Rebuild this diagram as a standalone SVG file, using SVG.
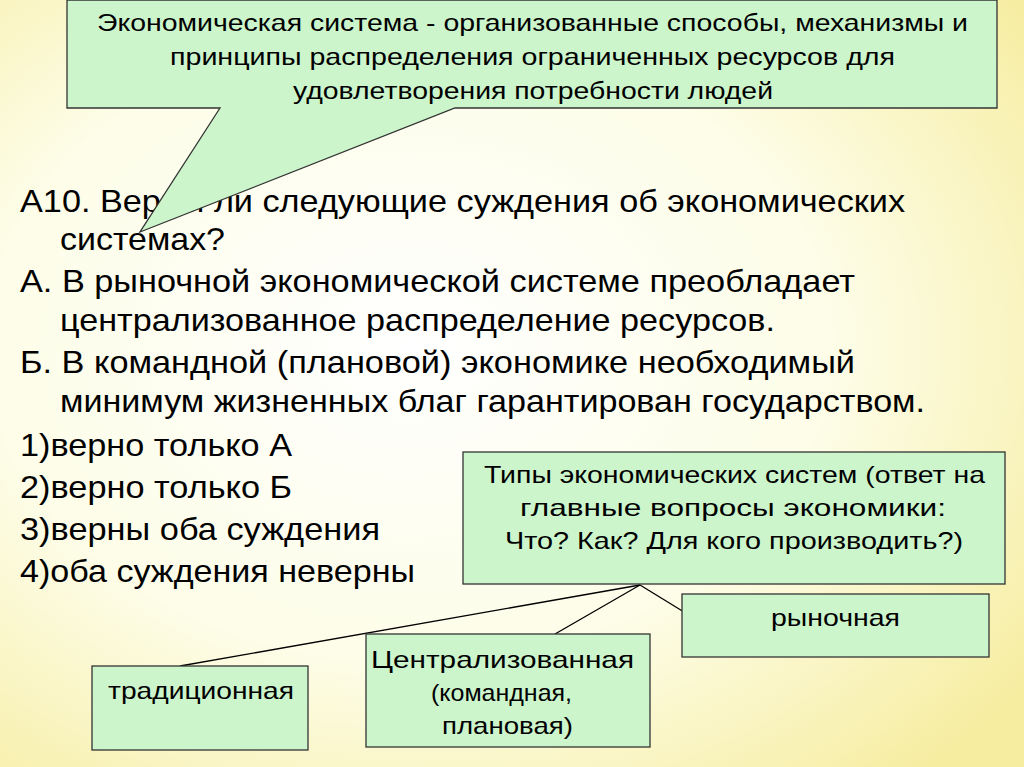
<svg xmlns="http://www.w3.org/2000/svg" width="1024" height="767" viewBox="0 0 1024 767">
<defs>
<radialGradient id="bg" cx="0.4" cy="0.45" r="0.75">
<stop offset="0" stop-color="#ffffff"/>
<stop offset="0.55" stop-color="#fdfde8"/>
<stop offset="1" stop-color="#f6eda0"/>
</radialGradient>
<style>
.box{fill:#ccf5cc;stroke:#333;stroke-width:1.3}
.t{font-family:"Liberation Sans",Arial,sans-serif;fill:#000}
.s{font-size:24px}
.m{font-size:32px}
.c{stroke:#000;stroke-width:1.3;fill:none}
</style>
</defs>
<rect width="1024" height="767" fill="url(#bg)"/>
<g id="question" class="t m" lengthAdjust="spacingAndGlyphs">
<text x="20" y="212" textLength="885" lengthAdjust="spacingAndGlyphs">А10. Верны ли следующие суждения об экономических</text>
<text x="60" y="250" textLength="165" lengthAdjust="spacingAndGlyphs">системах?</text>
<text x="20" y="292" textLength="835" lengthAdjust="spacingAndGlyphs">А. В рыночной экономической системе преобладает</text>
<text x="60" y="331" textLength="715" lengthAdjust="spacingAndGlyphs">централизованное распределение ресурсов.</text>
<text x="20" y="373" textLength="835" lengthAdjust="spacingAndGlyphs">Б. В командной (плановой) экономике необходимый</text>
<text x="60" y="412" textLength="865" lengthAdjust="spacingAndGlyphs">минимум жизненных благ гарантирован государством.</text>
<text x="20" y="456" textLength="272" lengthAdjust="spacingAndGlyphs">1)верно только А</text>
<text x="20" y="498" textLength="272" lengthAdjust="spacingAndGlyphs">2)верно только Б</text>
<text x="20" y="540" textLength="360" lengthAdjust="spacingAndGlyphs">3)верны оба суждения</text>
<text x="20" y="582" textLength="395" lengthAdjust="spacingAndGlyphs">4)оба суждения неверны</text>
</g>
<g id="definition">
<path class="box" d="M67,0 H997 V108 H455 L140,232 L220,108 H67 Z"/>
<text class="t s" x="97" y="31" textLength="871" lengthAdjust="spacingAndGlyphs">Экономическая система - организованные способы, механизмы и</text>
<text class="t s" x="170" y="65" textLength="725" lengthAdjust="spacingAndGlyphs">принципы распределения ограниченных ресурсов для</text>
<text class="t s" x="293" y="99" textLength="480" lengthAdjust="spacingAndGlyphs">удовлетворения потребности людей</text>
</g>
<g id="connectors">
<line class="c" x1="640" y1="585" x2="180" y2="666"/>
<line class="c" x1="640" y1="585" x2="555" y2="634"/>
<line class="c" x1="640" y1="585" x2="684" y2="612"/>
</g>
<g id="types">
<rect class="box" x="463" y="452" width="542" height="132"/>
<text class="t s" x="484" y="483" textLength="501" lengthAdjust="spacingAndGlyphs">Типы экономических систем (ответ на</text>
<text class="t s" x="520" y="516" textLength="426" lengthAdjust="spacingAndGlyphs">главные вопросы экономики:</text>
<text class="t s" x="505" y="549" textLength="458" lengthAdjust="spacingAndGlyphs">Что? Как?  Для кого производить?)</text>
</g>
<g id="market">
<rect class="box" x="682" y="594" width="307" height="63"/>
<text class="t s" x="771" y="626" textLength="129" lengthAdjust="spacingAndGlyphs">рыночная</text>
</g>
<g id="central">
<rect class="box" x="366" y="634" width="284" height="113"/>
<text class="t s" x="371" y="668" textLength="263" lengthAdjust="spacingAndGlyphs">Централизованная</text>
<text class="t s" x="431" y="701" textLength="141" lengthAdjust="spacingAndGlyphs">(командная,</text>
<text class="t s" x="442" y="734" textLength="131" lengthAdjust="spacingAndGlyphs">плановая)</text>
</g>
<g id="traditional">
<rect class="box" x="92" y="666" width="216" height="84"/>
<text class="t s" x="108" y="699" textLength="186" lengthAdjust="spacingAndGlyphs">традиционная</text>
</g>
</svg>
